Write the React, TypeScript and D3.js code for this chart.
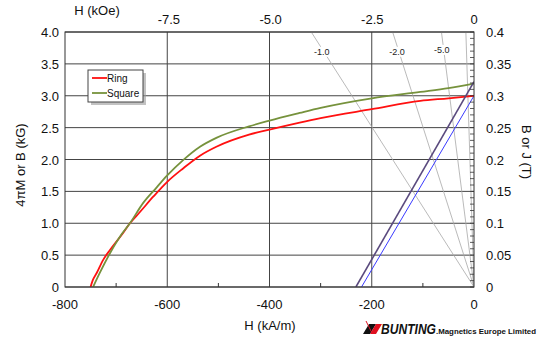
import React from "react";
import * as d3 from "d3";

const ringH = [-750, -746, -738, -725, -712, -689, -673, -653, -627, -600, -569, -536, -504, -440, -400, -341, -300, -200, -105, -50, 0];
const ringB = [0, 0.1, 0.22, 0.43, 0.58, 0.82, 1.0, 1.18, 1.42, 1.65, 1.86, 2.06, 2.2, 2.39, 2.47, 2.58, 2.65, 2.79, 2.92, 2.96, 3.0];
const squareH = [-745, -732, -712, -690, -673, -647, -621, -600, -569, -536, -504, -440, -400, -341, -300, -200, -105, -50, 0];
const squareB = [0, 0.22, 0.53, 0.82, 1.0, 1.32, 1.56, 1.75, 1.99, 2.2, 2.34, 2.52, 2.61, 2.73, 2.81, 2.96, 3.06, 3.12, 3.19];
// normal B-H lines (kA/m, kG)
const purpleH = [-231, 0];
const purpleB = [0, 3.22];
const blueH = [-220, 0];
const blueB = [0, 3.0];
// permeance coefficient lines (B/H in CGS)
const pcSlopes = [-1.0, -2.0, -5.0, -20];
const pcLabels = ["-1.0", "-2.0", "-5.0", ""];

const bottomTicks = [-800, -600, -400, -200, 0];
const bottomLabels = ["-800", "-600", "-400", "-200", "0"];
const bottomMinor = [-700, -500, -300, -100];
const topTicks = [-7.5, -5.0, -2.5, 0];
const topLabels = ["-7.5", "-5.0", "-2.5", "0"];
const leftTicks = [0, 0.5, 1.0, 1.5, 2.0, 2.5, 3.0, 3.5, 4.0];
const leftLabels = ["0", "0.5", "1.0", "1.5", "2.0", "2.5", "3.0", "3.5", "4.0"];
const rightTicks = [0, 0.05, 0.1, 0.15, 0.2, 0.25, 0.3, 0.35, 0.4];
const rightLabels = ["0", "0.05", "0.1", "0.15", "0.2", "0.25", "0.3", "0.35", "0.4"];
const vGrid = [-600, -400, -200];

const KA_PER_KOE = 79.577;

export default function App() {
  const L = 65, R = 474, T = 32, B = 287;
  const x = d3.scaleLinear().domain([-800, 0]).range([L, R]);
  const xOe = d3.scaleLinear().domain([-800 / KA_PER_KOE, 0]).range([L, R]);
  const y = d3.scaleLinear().domain([0, 4]).range([B, T]);
  const yR = d3.scaleLinear().domain([0, 0.4]).range([B, T]);
  const smooth = d3.line<[number, number]>().x(d => x(d[0])).y(d => y(d[1])).curve(d3.curveMonotoneX);
  const straight = d3.line<[number, number]>().x(d => x(d[0])).y(d => y(d[1]));
  const ring = ringH.map((h, i) => [h, ringB[i]] as [number, number]);
  const sq = squareH.map((h, i) => [h, squareB[i]] as [number, number]);
  const pur = purpleH.map((h, i) => [h, purpleB[i]] as [number, number]);
  const blu = blueH.map((h, i) => [h, blueB[i]] as [number, number]);
  const rightMinor = d3.range(0, 41).map(i => i / 100);
  const font = "'Liberation Sans', Arial, Helvetica, sans-serif";

  return (
    <svg width={539} height={341} style={{ position: "absolute", left: 0, top: 0, background: "#fff", fontFamily: font }}>
      <defs>
        <clipPath id="plot"><rect x={L} y={T} width={R - L} height={B - T} /></clipPath>
      </defs>
      <rect x={0} y={0} width={539} height={341} fill="#fff" />
      {/* grid */}
      {leftTicks.map(v => (
        <line key={"h" + v} x1={L} x2={R} y1={y(v)} y2={y(v)} stroke="#444" strokeWidth={1} />
      ))}
      {vGrid.map(v => (
        <line key={"v" + v} x1={x(v)} x2={x(v)} y1={T} y2={B} stroke="#444" strokeWidth={1} />
      ))}
      {/* permeance lines */}
      <g clipPath="url(#plot)">
        {pcSlopes.map(s => {
          const hTop = (4 / s) * KA_PER_KOE;
          return <line key={"pc" + s} x1={x(0)} y1={y(0)} x2={x(hTop)} y2={y(4)} stroke="#a8a8a8" strokeWidth={0.8} />;
        })}
      </g>
      {pcSlopes.map((s, i) => {
        if (!pcLabels[i]) return null;
        const bv = s === -5.0 ? 3.72 : 3.69;
        const hx = x((bv / s) * KA_PER_KOE) - 2;
        const yy = y(bv);
        return (
          <g key={"pl" + s}>
            <rect x={hx - 9} y={yy - 5} width={18} height={10} fill="#fff" />
            <text x={hx} y={yy + 3} fontSize={9} textAnchor="middle" fill="#222">{pcLabels[i]}</text>
          </g>
        );
      })}
      {/* curves */}
      <g clipPath="url(#plot)">
        <path d={straight(blu) || ""} fill="none" stroke="#3a3aff" strokeWidth={1} />
        <path d={smooth(ring) || ""} fill="none" stroke="#ff1010" strokeWidth={1.8} />
        <path d={smooth(sq) || ""} fill="none" stroke="#76923c" strokeWidth={1.8} />
        <path d={straight(pur) || ""} fill="none" stroke="#5a4a7e" strokeWidth={1.6} />
      </g>
      {/* frame */}
      <rect x={L} y={T} width={R - L} height={B - T} fill="none" stroke="#333" strokeWidth={1} />
      {bottomMinor.map(v => (
        <line key={"bm" + v} x1={x(v)} x2={x(v)} y1={B} y2={B - 4} stroke="#333" />
      ))}
      {rightMinor.map(v => (
        <line key={"rm" + v} x1={R} x2={R - 4} y1={yR(v)} y2={yR(v)} stroke="#333" strokeWidth={0.8} />
      ))}
      {/* labels */}
      {leftTicks.map((v, i) => (
        <text key={"lt" + v} x={L - 6} y={y(v) + 5} fontSize={13} textAnchor="end" fill="#111">{leftLabels[i]}</text>
      ))}
      {rightTicks.map((v, i) => (
        <text key={"rt" + v} x={R + 12} y={yR(v) + 5} fontSize={13} textAnchor="start" fill="#111">{rightLabels[i]}</text>
      ))}
      {bottomTicks.map((v, i) => (
        <text key={"bt" + v} x={x(v)} y={B + 22} fontSize={13} textAnchor="middle" fill="#111">{bottomLabels[i]}</text>
      ))}
      {topTicks.map((v, i) => (
        <text key={"tt" + v} x={xOe(v)} y={24} fontSize={13} textAnchor="middle" fill="#111">{topLabels[i]}</text>
      ))}
      <text x={97} y={15} fontSize={13} textAnchor="middle" fill="#111">H (kOe)</text>
      <text x={270} y={330} fontSize={13} textAnchor="middle" fill="#111">H (kA/m)</text>
      <text transform={`translate(25,165) rotate(-90)`} fontSize={13} textAnchor="middle" fill="#111">4πM or B (kG)</text>
      <text transform={`translate(522,152) rotate(90)`} fontSize={13} textAnchor="middle" fill="#111">B or J (T)</text>
      {/* legend */}
      <rect x={91} y={73} width={55} height={32} fill="#9a9a9a" opacity={0.6} />
      <rect x={88} y={70} width={55} height={32} fill="#fff" stroke="#444" strokeWidth={1} />
      <line x1={92} x2={107} y1={78} y2={78} stroke="#ff1010" strokeWidth={1.8} />
      <text x={107} y={82} fontSize={10} fill="#111">Ring</text>
      <line x1={92} x2={107} y1={93} y2={93} stroke="#76923c" strokeWidth={1.8} />
      <text x={107} y={97} fontSize={10} fill="#111">Square</text>
      {/* logo */}
      <g>
        <path d="M363,334 L369,324 L376,324 L370,334 Z" fill="#111" />
        <path d="M370,334 L376,324 L382,324 L376,334 Z" fill="#e01020" />
        <path d="M366,321 L372,333" stroke="#e01020" strokeWidth={1} />
        <text x={381} y={334} fontSize={14} fontWeight="bold" fontStyle="italic" fill="#111" textLength={55} lengthAdjust="spacingAndGlyphs">BUNTING</text>
        <text x={436} y={334} fontSize={7.5} fontWeight="bold" fill="#111" textLength={100} lengthAdjust="spacingAndGlyphs">.Magnetics Europe Limited</text>
      </g>
    </svg>
  );
}
